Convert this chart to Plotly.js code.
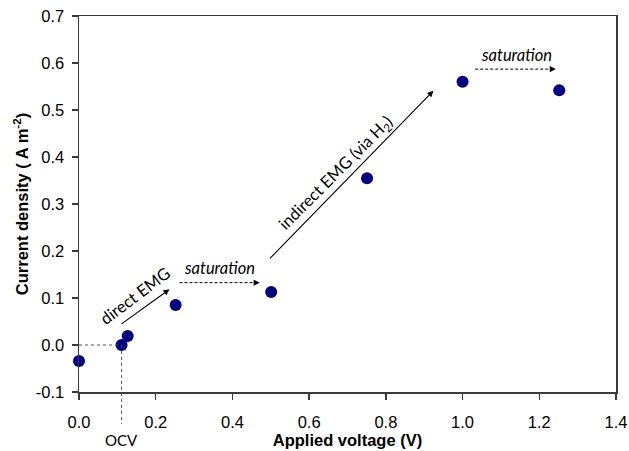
<!DOCTYPE html>
<html>
<head>
<meta charset="utf-8">
<script src="https://cdn.plot.ly/plotly-3.0.1.min.js"></script>
<style>html,body{margin:0;padding:0;background:#fff;}#chart{width:629px;height:451px;}</style>
</head>
<body>
<div id="chart"></div>
<script>
// Data
var voltage = [0.0, 0.111, 0.127, 0.252, 0.501, 0.751, 1.0, 1.252];
var currentDensity = [-0.034, 0.0, 0.019, 0.085, 0.113, 0.355, 0.560, 0.542];
var ocvVoltage = 0.111;
var xTickVals = [0, 0.2, 0.4, 0.6, 0.8, 1.0, 1.2, 1.4];
var xTickText = ['0.0', '0.2', '0.4', '0.6', '0.8', '1.0', '1.2', '1.4'];
var yTickVals = [-0.1, 0, 0.1, 0.2, 0.3, 0.4, 0.5, 0.6, 0.7];
var yTickText = ['-0.1', '0.0', '0.1', '0.2', '0.3', '0.4', '0.5', '0.6', '0.7'];

var axisColor = '#3a3a3a';
var arial = 'Arial, "Liberation Sans", sans-serif';
var annFam = 'Lato, "Open Sans", sans-serif';
var annFont = {family: annFam, size: 16.5, color: '#000'};
var annItal = {family: annFam, size: 16.5, color: '#000', style: 'italic'};

var trace = {
  x: voltage, y: currentDensity, type: 'scatter', mode: 'markers',
  marker: {color: '#000080', size: 12},
  cliponaxis: false, hoverinfo: 'skip'
};

function solidArrow(x0, y0, x1, y1) {
  return {x: x1, y: y1, ax: x0, ay: y0, xref: 'x', yref: 'y', axref: 'x', ayref: 'y',
    text: '', showarrow: true, arrowhead: 2, arrowsize: 1.1, arrowwidth: 1.1, arrowcolor: '#000'};
}
function headOnly(x1, y1, x0) {
  return {x: x1, y: y1, ax: x0, ay: y1, xref: 'x', yref: 'y', axref: 'x', ayref: 'y',
    text: '', showarrow: true, arrowhead: 2, arrowsize: 1.1, arrowwidth: 1.1, arrowcolor: '#000'};
}

var layout = {
  width: 629, height: 451,
  margin: {l: 79, r: 13, t: 16, b: 59},
  paper_bgcolor: '#fff', plot_bgcolor: '#fff',
  showlegend: false,
  font: {family: arial, size: 16.5, color: '#000'},
  xaxis: {
    range: [0, 1.4], tickvals: xTickVals, ticktext: xTickText,
    ticks: 'outside', ticklen: 6, tickwidth: 1.5, tickcolor: axisColor,
    ticklabelstandoff: 9,
    showline: true, linecolor: axisColor, linewidth: 1.5, mirror: true,
    showgrid: false, zeroline: false,
    tickfont: {family: arial, size: 16.5},
    title: {text: '<b>Applied voltage (V)</b>', font: {family: arial, size: 16.5}, standoff: 1}
  },
  yaxis: {
    range: [-0.1, 0.7], tickvals: yTickVals, ticktext: yTickText,
    ticks: 'outside', ticklen: 6, tickwidth: 1.5, tickcolor: axisColor,
    ticklabelstandoff: 4,
    showline: true, linecolor: axisColor, linewidth: 1.5, mirror: true,
    showgrid: false, zeroline: false,
    tickfont: {family: arial, size: 16.5},
    title: {text: '<b>Current density ( A m<sup>-2</sup>)</b>', font: {family: arial, size: 16.5}, standoff: 3}
  },
  shapes: [
    {type: 'line', xref: 'x', yref: 'y', x0: 0, x1: ocvVoltage, y0: 0, y1: 0,
     line: {color: '#555', width: 1, dash: 'dot'}},
    {type: 'line', xref: 'x', yref: 'paper', x0: ocvVoltage, x1: ocvVoltage, y0: 0.125, y1: -0.085,
     line: {color: '#555', width: 1, dash: 'dot'}},
    {type: 'line', xref: 'x', yref: 'y', x0: 0.262, x1: 0.466, y0: 0.1326, y1: 0.1326,
     line: {color: '#000', width: 1, dash: '3px,2px'}},
    {type: 'line', xref: 'x', yref: 'y', x0: 1.033, x1: 1.238, y0: 0.587, y1: 0.587,
     line: {color: '#000', width: 1, dash: '3px,2px'}}
  ],
  annotations: [
    solidArrow(0.107, 0.0426, 0.236, 0.1185),
    solidArrow(0.494, 0.181, 0.924, 0.541),
    headOnly(0.471, 0.1326, 0.455),
    headOnly(1.243, 0.587, 1.227),
    {x: 0.146, y: 0.104, xref: 'x', yref: 'y', text: 'direct EMG', showarrow: false, textangle: -37, font: annFont},
    {x: 0.366, y: 0.163, xref: 'x', yref: 'y', text: 'saturation', showarrow: false, font: annItal},
    {x: 0.670, y: 0.368, xref: 'x', yref: 'y', text: 'indirect EMG (via H<sub>2</sub>)', showarrow: false, textangle: -45, font: annFont},
    {x: 1.140, y: 0.618, xref: 'x', yref: 'y', text: 'saturation', showarrow: false, font: annItal},
    {x: ocvVoltage, y: -0.128, xref: 'x', yref: 'paper', yanchor: 'middle', text: 'OCV', showarrow: false,
     font: {family: annFam, size: 15, color: '#000'}}
  ]
};

Plotly.newPlot('chart', [trace], layout, {displayModeBar: false, staticPlot: true});
</script>
</body>
</html>
